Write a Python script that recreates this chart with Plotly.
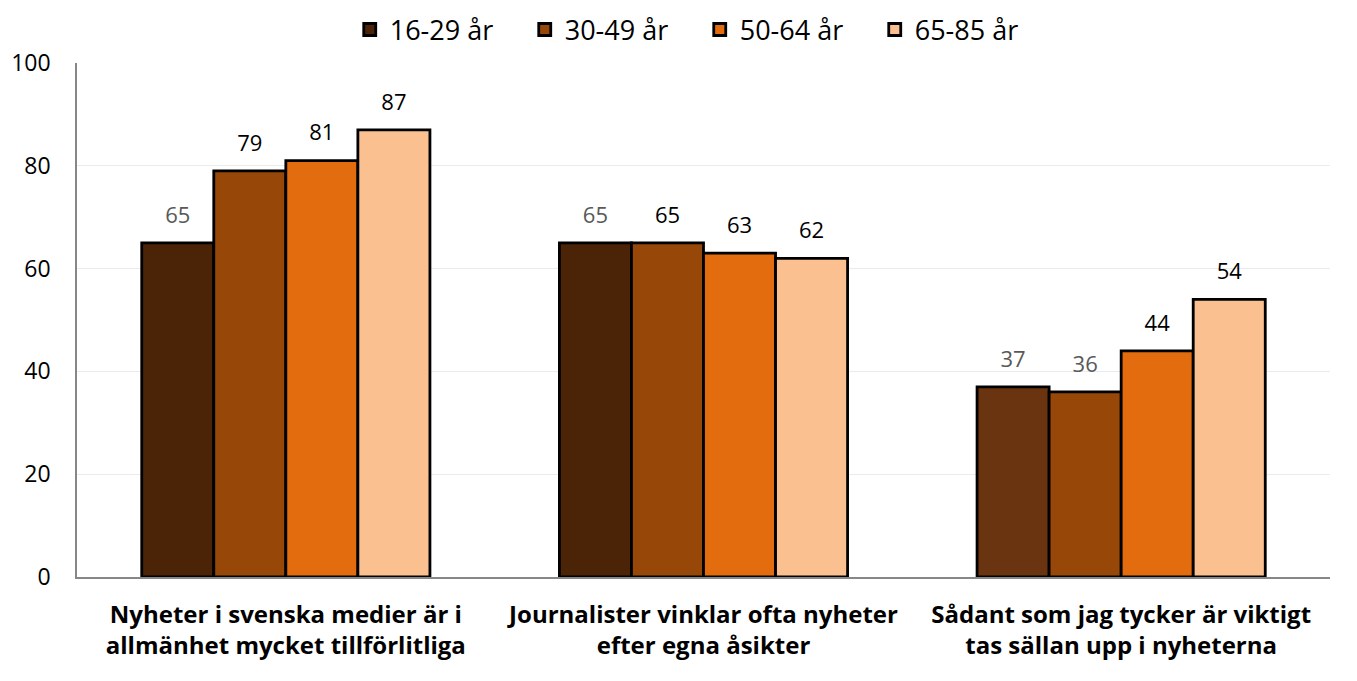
import plotly.graph_objects as go

categories = [
    "Nyheter i svenska medier är i<br>allmänhet mycket tillförlitliga",
    "Journalister vinklar ofta nyheter<br>efter egna åsikter",
    "Sådant som jag tycker är viktigt<br>tas sällan upp i nyheterna",
]
age_groups = ["16-29 år", "30-49 år", "50-64 år", "65-85 år"]
values = {
    "16-29 år": [65, 65, 37],
    "30-49 år": [79, 65, 36],
    "50-64 år": [81, 63, 44],
    "65-85 år": [87, 62, 54],
}
# first colour of each list is also what the legend shows
bar_colors = {
    "16-29 år": ["#4B2306", "#4B2306", "#6B3410"],
    "30-49 år": ["#974808", "#974808", "#974808"],
    "50-64 år": ["#E36C0E", "#E36C0E", "#E36C0E"],
    "65-85 år": ["#FAC090", "#FAC090", "#FAC090"],
}
label_colors = {
    "16-29 år": ["#595959", "#595959", "#595959"],
    "30-49 år": ["#000000", "#000000", "#595959"],
    "50-64 år": ["#000000", "#000000", "#000000"],
    "65-85 år": ["#000000", "#000000", "#000000"],
}

fig = go.Figure()
for g in age_groups:
    fig.add_trace(go.Bar(
        x=categories, y=values[g], name=g, offsetgroup=g,
        marker=dict(color=bar_colors[g], line=dict(color="black", width=2.8)),
    ))
# value labels as invisible-marker scatter, grouped like the bars, so they sit higher above the bars
for g in age_groups:
    fig.add_trace(go.Scatter(
        x=categories, y=values[g], offsetgroup=g, showlegend=False,
        mode="markers+text", marker=dict(size=22, opacity=0),
        text=values[g], textposition="top center", cliponaxis=False,
        textfont=dict(size=22, color=label_colors[g], family="Open Sans"),
        hoverinfo="skip",
    ))

# page body adds 8px offset, margins compensate for it
fig.update_layout(
    width=1357, height=681,
    barmode="group", bargap=0.31, bargroupgap=0,
    scattermode="group", scattergap=0.31,
    plot_bgcolor="white", paper_bgcolor="white",
    margin=dict(l=69, r=35, t=55, b=112, autoexpand=False),
    font=dict(family="Open Sans", color="black"),
    legend=dict(orientation="h", x=0.497, xanchor="center",
                y=1.112, yanchor="top", yref="paper",
                font=dict(size=27), traceorder="normal", entrywidth=130),
)
fig.update_yaxes(range=[0, 100], dtick=20, showgrid=True, gridcolor="#EBEBEB",
                 showline=True, linecolor="#878787", linewidth=1.5,
                 tickfont=dict(size=23), ticks="", zeroline=False,
                 automargin=False, ticklabelstandoff=20)
fig.update_xaxes(showline=True, linecolor="#878787", linewidth=1.5,
                 tickfont=dict(size=24, family="Open Sans"), ticks="",
                 tickprefix="<b>", ticksuffix="</b>",
                 automargin=False, ticklabelstandoff=15)

fig.write_html("out.html")
